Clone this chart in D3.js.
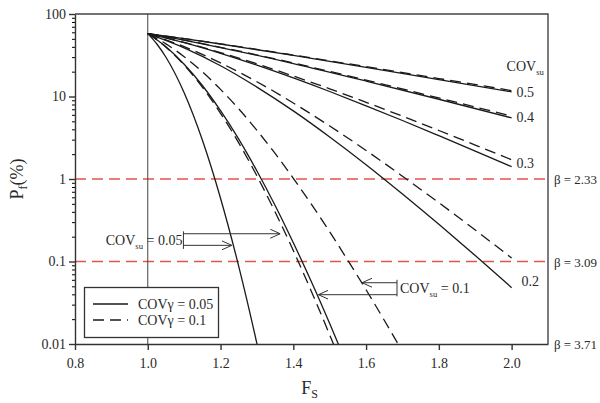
<!DOCTYPE html>
<html>
<head>
<meta charset="utf-8">
<script src="https://cdn.jsdelivr.net/npm/d3@7"></script>
<style>
  html, body { margin: 0; padding: 0; background: #fff; }
  svg { display: block; font-family: "Liberation Serif", "Times New Roman", serif; }
</style>
</head>
<body>
<svg id="chart" width="600" height="403"></svg>
<script>
// Factor of safety grids used by the curves
const fsA = [1.0, 1.1, 1.2, 1.4, 1.6, 1.8, 2.0];
const fsB = [1.0, 1.1, 1.2, 1.3, 1.4, 1.5, 1.6, 1.7, 1.8, 1.9, 2.0];
const fsC = [1.0, 1.05, 1.1, 1.15, 1.2, 1.25, 1.3, 1.35, 1.4, 1.45, 1.5, 1.55, 1.6, 1.65, 1.7];
const fsD = [1.0, 1.05, 1.1, 1.15, 1.2, 1.25, 1.3, 1.35, 1.4, 1.45, 1.5, 1.55];
const fsE = [1.0, 1.025, 1.05, 1.1, 1.15, 1.2, 1.25, 1.3, 1.35];

// Probability of failure (%) — solid: COVγ = 0.05, dashed: COVγ = 0.1
const pf05Solid = [57.9, 50.3, 43.3, 31.5, 22.6, 16.0, 11.4];
const pf05Dash  = [57.9, 50.4, 43.5, 31.8, 23.0, 16.5, 11.8];
const pf04Solid = [57.9, 48.1, 39.2, 25.1, 15.4, 9.26, 5.50];
const pf04Dash  = [57.9, 48.3, 39.5, 25.5, 15.8, 9.6, 5.8];
const pf03Solid = [57.9, 44.9, 33.4, 24.0, 16.8, 11.5, 7.72, 5.12, 3.35, 2.18, 1.41];
const pf03Dash  = [57.9, 45.3, 34.1, 24.9, 17.7, 12.4, 8.5, 5.77, 3.87, 2.58, 1.71];
const pf02Solid = [57.9, 38.9, 23.6, 13.0, 6.69, 3.23, 1.49, 0.657, 0.282, 0.118, 0.0482];
const pf02Dash  = [57.9, 40.2, 25.5, 15.1, 8.34, 4.39, 2.22, 1.08, 0.516, 0.241, 0.110];
const pf01Dash  = [57.9, 43.4, 30.4, 19.9, 12.2, 7.08, 3.89, 2.04, 1.02, 0.492, 0.229, 0.103, 0.0454, 0.0194, 0.0081];
const pf01Solid = [57.9, 40.0, 24.6, 13.6, 6.73, 3.04, 1.25, 0.478, 0.169, 0.0564, 0.0177, 0.00529];
const pf005Dash = [57.9, 39.6, 24.0, 13.0, 6.26, 2.74, 1.09, 0.399, 0.136, 0.0431, 0.0129, 0.00366];
const pf005Solid = [57.9, 43.3, 29.9, 11.1, 2.97, 0.585, 0.0873, 0.0101, 0.00094];

// Tick labels
const xTicks = [0.8, 1.0, 1.2, 1.4, 1.6, 1.8, 2.0];
const yTicks = [0.01, 0.1, 1, 10, 100];
const yTickLabels = ["0.01", "0.1", "1", "10", "100"];

// Target reliability levels (Pf %) and their β labels
const betaLevels = [1, 0.1, 0.01];
const betaLabels = ["β = 2.33", "β = 3.09", "β = 3.71"];

// Series table built from the arrays above
const series = [
  { fs: fsA, pf: pf05Solid, dashed: false },
  { fs: fsA, pf: pf05Dash, dashed: true },
  { fs: fsA, pf: pf04Solid, dashed: false },
  { fs: fsA, pf: pf04Dash, dashed: true },
  { fs: fsB, pf: pf03Solid, dashed: false },
  { fs: fsB, pf: pf03Dash, dashed: true },
  { fs: fsB, pf: pf02Solid, dashed: false },
  { fs: fsB, pf: pf02Dash, dashed: true },
  { fs: fsC, pf: pf01Dash, dashed: true },
  { fs: fsD, pf: pf01Solid, dashed: false },
  { fs: fsD, pf: pf005Dash, dashed: true },
  { fs: fsE, pf: pf005Solid, dashed: false }
];

// COV_su labels at the right-hand ends of the curves
const covLabels = ["0.5", "0.4", "0.3", "0.2"];
const covLabelPf = [11.4, 5.6, 1.55, 0.058];

const W = 600, H = 403;
const margin = { top: 14, right: 52, bottom: 59, left: 75 };
const svg = d3.select("#chart");

const x = d3.scaleLinear().domain([0.8, 2.1]).range([margin.left, W - margin.right]);
const y = d3.scaleLog().domain([0.01, 100]).range([H - margin.bottom, margin.top]);

const ink = "#1a1a1a";
const textCol = "#2a2a2a";

svg.append("defs").append("clipPath").attr("id", "plotClip")
  .append("rect")
  .attr("x", x(0.8)).attr("y", y(100))
  .attr("width", x(2.1) - x(0.8)).attr("height", y(0.01) - y(100));

// Reference lines for target reliability
svg.append("g").selectAll("line").data(betaLevels.slice(0, 2)).join("line")
  .attr("x1", x(0.8)).attr("x2", x(2.1))
  .attr("y1", d => y(d)).attr("y2", d => y(d))
  .attr("stroke", "#e4534f").attr("stroke-width", 1.6)
  .attr("stroke-dasharray", "11,6");

// Vertical line at Fs = 1.0
svg.append("line")
  .attr("x1", x(1.0)).attr("x2", x(1.0))
  .attr("y1", y(100)).attr("y2", y(0.01))
  .attr("stroke", "#444").attr("stroke-width", 1);

// Curves
const line = d3.line()
  .x(d => x(d[0])).y(d => y(d[1]))
  .curve(d3.curveMonotoneX);

svg.append("g").attr("clip-path", "url(#plotClip)")
  .selectAll("path").data(series).join("path")
  .attr("d", s => line(s.fs.map((f, i) => [f, s.pf[i]])))
  .attr("fill", "none")
  .attr("stroke", ink)
  .attr("stroke-width", 1.3)
  .attr("stroke-dasharray", s => s.dashed ? "11,6" : null);

// Axes
const xAxis = d3.axisBottom(x).tickValues(xTicks).tickFormat(d3.format(".1f")).tickSize(6).tickSizeOuter(0);
const gx = svg.append("g").attr("transform", `translate(0,${y(0.01)})`).call(xAxis);
gx.selectAll("text").attr("font-size", 14).attr("fill", textCol).attr("dy", "1.1em")
  .attr("font-family", "Liberation Serif, serif");

const minorVals = [];
for (let e = -2; e < 2; e++) for (let m = 2; m <= 9; m++) minorVals.push(m * Math.pow(10, e));
svg.append("g").attr("transform", `translate(${x(0.8)},0)`)
  .call(d3.axisLeft(y).tickValues(minorVals).tickSize(3).tickFormat(""))
  .call(g => g.select(".domain").remove());

const yAxis = d3.axisLeft(y).tickValues(yTicks).tickFormat((d, i) => yTickLabels[i]).tickSize(6).tickSizeOuter(0);
const gy = svg.append("g").attr("transform", `translate(${x(0.8)},0)`).call(yAxis);
gy.selectAll("text").attr("font-size", 14).attr("fill", textCol)
  .attr("font-family", "Liberation Serif, serif");

[gx, gy].forEach(g => {
  g.selectAll(".domain, line").attr("stroke", "#333").attr("stroke-width", 1.4);
});

// Frame (top and right)
svg.append("path")
  .attr("d", `M${x(0.8)},${y(100)}H${x(2.1)}V${y(0.01)}`)
  .attr("fill", "none").attr("stroke", "#444").attr("stroke-width", 1.4);

// β labels
svg.append("g").selectAll("text").data(betaLevels).join("text")
  .attr("x", x(2.1) + 6).attr("y", d => y(d) + 5)
  .attr("font-size", 13.5).attr("fill", textCol)
  .attr("textLength", 43).attr("lengthAdjust", "spacingAndGlyphs")
  .text((d, i) => betaLabels[i]);

// COV_su curve labels
svg.append("g").selectAll("text").data(covLabels).join("text")
  .attr("x", (d, i) => x(2.0) + (i === 3 ? 10 : 5))
  .attr("y", (d, i) => y(covLabelPf[i]) + 5)
  .attr("font-size", 14).attr("fill", textCol)
  .text(d => d);

function covText(sel, size) {
  sel.append("tspan").text("COV");
  sel.append("tspan").attr("font-size", size * 0.62).attr("dy", 4).text("su");
}
const covHead = svg.append("text").attr("x", x(2.0) - 5).attr("y", y(20.5)).attr("font-size", 14).attr("fill", textCol);
covText(covHead, 14);

// Axis titles
const xt = svg.append("text").attr("x", x(1.445)).attr("y", 394)
  .attr("font-size", 18).attr("fill", textCol).attr("text-anchor", "middle");
xt.append("tspan").text("F");
xt.append("tspan").attr("font-size", 12).attr("dy", 4).text("S");

const yt = svg.append("text")
  .attr("transform", `translate(23,${y(1)}) rotate(-90)`)
  .attr("font-size", 18).attr("fill", textCol).attr("text-anchor", "middle");
yt.append("tspan").text("P");
yt.append("tspan").attr("font-size", 12).attr("dy", 4).text("f");
yt.append("tspan").attr("dy", -4).text("(%)");

// Arrow annotations
const defs = svg.select("defs");
defs.append("marker").attr("id", "arrowOpen")
  .attr("viewBox", "0 0 10 10").attr("refX", 10).attr("refY", 5)
  .attr("markerWidth", 10).attr("markerHeight", 10)
  .attr("markerUnits", "userSpaceOnUse").attr("orient", "auto")
  .append("path").attr("d", "M0,0.5 L10,5 L0,9.5")
  .attr("fill", "none").attr("stroke", "#333").attr("stroke-width", 1);

const annBracketFs = [1.098, 1.685];
const annBracketPf = [[0.232, 0.142], [0.060, 0.0378]];
const annArrowPf = [[0.217, 0.157], [0.0553, 0.0396]];
const annArrowTipFs = [[1.364, 1.231], [1.589, 1.469]];
const annText = ["0.05", "0.1"];

const ann = svg.append("g").attr("stroke", "#333").attr("stroke-width", 1);
annBracketFs.forEach((bf, k) => {
  ann.append("line")
    .attr("x1", x(bf)).attr("x2", x(bf))
    .attr("y1", y(annBracketPf[k][0])).attr("y2", y(annBracketPf[k][1]));
  annArrowPf[k].forEach((p, j) => {
    ann.append("line")
      .attr("x1", x(bf)).attr("x2", x(annArrowTipFs[k][j]))
      .attr("y1", y(p)).attr("y2", y(p))
      .attr("marker-end", "url(#arrowOpen)");
  });
});

const t1 = svg.append("text").attr("x", x(annBracketFs[0]) - 1).attr("y", 245)
  .attr("font-size", 14).attr("fill", textCol).attr("text-anchor", "end");
covText(t1, 14);
t1.append("tspan").attr("dy", -4).text(" = " + annText[0]);

const t2 = svg.append("text").attr("x", x(annBracketFs[1]) + 3).attr("y", 293)
  .attr("font-size", 14).attr("fill", textCol);
covText(t2, 14);
t2.append("tspan").attr("dy", -4).text(" = " + annText[1]);

// Legend
const lg = svg.append("g");
lg.append("rect").attr("x", 84.5).attr("y", 287.5).attr("width", 134).attr("height", 50)
  .attr("fill", "#fff").attr("stroke", "#333").attr("stroke-width", 1.3);
const legendItems = [{ label: "COVγ = 0.05", dashed: false }, { label: "COVγ = 0.1", dashed: true }];
legendItems.forEach((d, i) => {
  const yy = 304 + i * 16;
  lg.append("line").attr("x1", 93).attr("x2", 128).attr("y1", yy).attr("y2", yy)
    .attr("stroke", ink).attr("stroke-width", 1.3)
    .attr("stroke-dasharray", d.dashed ? "11,6" : null);
  lg.append("text").attr("x", 138).attr("y", yy + 5)
    .attr("font-size", 14).attr("fill", textCol).text(d.label);
});
</script>
</body>
</html>
